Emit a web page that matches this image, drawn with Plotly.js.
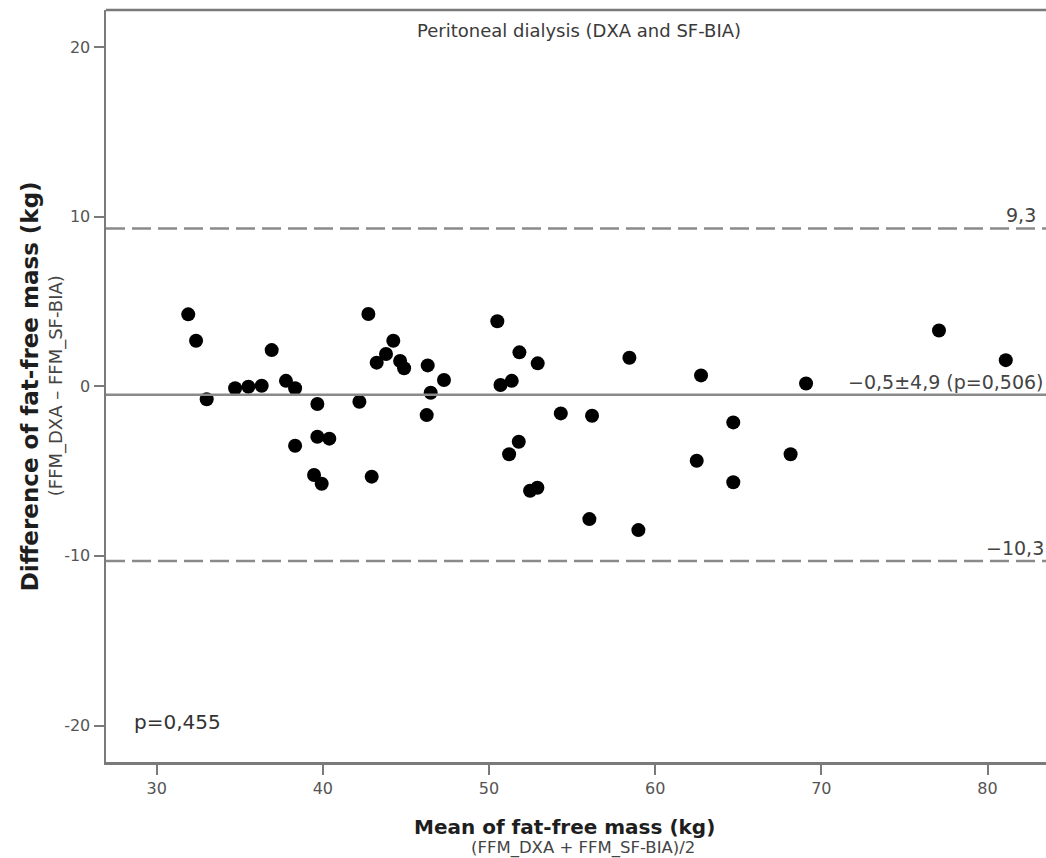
<!DOCTYPE html>
<html>
<head>
<meta charset="utf-8">
<script src="https://cdn.plot.ly/plotly-3.0.1.min.js"></script>
<style>html,body{margin:0;padding:0;background:#fff;}#chart{width:1046px;height:858px;}</style>
</head>
<body>
<div id="chart"></div>
<script>
// Mean of fat-free mass (kg)
const meanFFM = [31.9, 32.37, 33.01, 34.72, 35.52, 36.32, 36.92, 37.78, 38.33, 38.33,
  39.67, 39.67, 40.39, 39.47, 39.93, 42.74, 42.2, 42.94, 44.24, 43.8,
  43.24, 44.65, 44.89, 46.31, 46.49, 46.25, 47.29, 50.5, 50.69, 51.83,
  52.93, 51.37, 54.32, 56.2, 51.79, 51.21, 52.47, 52.91, 56.04, 58.99,
  58.45, 62.76, 64.7, 62.5, 64.7, 68.15, 69.08, 77.08, 81.1];
// Difference of fat-free mass (kg)
const diffFFM = [4.24, 2.68, -0.77, -0.12, -0.03, 0.03, 2.13, 0.32, -0.12, -3.51,
  -1.05, -2.98, -3.09, -5.23, -5.75, 4.26, -0.91, -5.33, 2.68, 1.9,
  1.39, 1.49, 1.06, 1.23, -0.38, -1.7, 0.37, 3.83, 0.07, 2.0,
  1.35, 0.32, -1.6, -1.74, -3.27, -4.01, -6.16, -5.98, -7.83, -8.48,
  1.68, 0.64, -2.13, -4.39, -5.66, -4.01, 0.16, 3.29, 1.54];
// Bland-Altman reference lines
const meanDiff = -0.5;
const upperLoA = 9.3;
const lowerLoA = -10.3;
const meanLabel = "\u22120,5\u00b14,9 (p=0,506)";
const upperLabel = "9,3";
const lowerLabel = "\u221210,3";
const pTrendLabel = "p=0,455";
const xTicks = [30, 40, 50, 60, 70, 80];
const yTicks = [-20, -10, 0, 10, 20];

const FONT = "DejaVu Sans, Verdana, sans-serif";
const LINE = "#7a7a7a";

const trace = {
  x: meanFFM, y: diffFFM, type: "scatter", mode: "markers",
  marker: {color: "#000", size: 14, line: {width: 0}},
  hoverinfo: "x+y", showlegend: false
};

const layout = {
  width: 1046, height: 858,
  margin: {l: 106, r: 0, t: 10, b: 96, pad: 0},
  paper_bgcolor: "#fff", plot_bgcolor: "#fff",
  font: {family: FONT, color: "#555", size: 16},
  xaxis: {
    range: [26.95, 83.52], tickvals: xTicks, ticktext: xTicks.map(String),
    showgrid: false, zeroline: false, showline: true, linecolor: LINE, linewidth: 2.5,
    mirror: false, ticks: "outside", ticklen: 10, tickwidth: 2, tickcolor: LINE,
    tickfont: {family: FONT, size: 16, color: "#555"}
  },
  yaxis: {
    range: [-22.15, 22.18], tickvals: yTicks, ticktext: yTicks.map(v => v < 0 ? "-" + Math.abs(v) : String(v)),
    showgrid: false, zeroline: false, showline: true, linecolor: LINE, linewidth: 2.5,
    ticks: "outside", ticklen: 10, tickwidth: 2, tickcolor: LINE,
    tickfont: {family: FONT, size: 16, color: "#555"}
  },
  shapes: [
    {type: "line", xref: "paper", x0: 0, x1: 1, yref: "paper", y0: 1, y1: 1,
     line: {color: LINE, width: 2.5}},
    {type: "line", xref: "paper", x0: 0, x1: 1, yref: "y", y0: upperLoA, y1: upperLoA,
     line: {color: "#8a8a8a", width: 2.5, dash: "19px,7px"}},
    {type: "line", xref: "paper", x0: 0, x1: 1, yref: "y", y0: lowerLoA, y1: lowerLoA,
     line: {color: "#8a8a8a", width: 2.5, dash: "19px,7px"}},
    {type: "line", xref: "paper", x0: 0, x1: 1, yref: "y", y0: meanDiff, y1: meanDiff,
     line: {color: "#8a8a8a", width: 2.5}}
  ],
  annotations: [
    {text: "Peritoneal dialysis (DXA and SF-BIA)", xref: "paper", yref: "paper",
     x: 0.503, y: 1, yshift: -20, xanchor: "center", yanchor: "middle", showarrow: false,
     font: {family: FONT, size: 18, color: "#3a3a3a"}},
    {text: upperLabel, xref: "paper", yref: "y", x: 1, xshift: -8, y: upperLoA, yshift: 0,
     xanchor: "right", yanchor: "bottom", showarrow: false,
     font: {family: FONT, size: 19, color: "#444"}},
    {text: meanLabel, xref: "paper", yref: "y", x: 1, xshift: 0, y: meanDiff, yshift: 0,
     xanchor: "right", yanchor: "bottom", showarrow: false,
     font: {family: FONT, size: 19, color: "#444"}},
    {text: lowerLabel, xref: "paper", yref: "y", x: 1, xshift: 0, y: lowerLoA, yshift: 0,
     xanchor: "right", yanchor: "bottom", showarrow: false,
     font: {family: FONT, size: 19, color: "#444"}},
    {text: pTrendLabel, xref: "paper", yref: "y", x: 0, xshift: 26, y: -20, yshift: 4,
     xanchor: "left", yanchor: "middle", showarrow: false,
     font: {family: FONT, size: 20, color: "#333"}},
    {text: "<b>Mean of fat-free mass (kg)</b>", xref: "paper", yref: "paper",
     x: 0.488, y: 0, yshift: -65, xanchor: "center", yanchor: "middle", showarrow: false,
     font: {family: FONT, size: 20, color: "#1e1e1e"}},
    {text: "(FFM_DXA + FFM_SF-BIA)/2", xref: "paper", yref: "paper",
     x: 0.507, y: 0, yshift: -86, xanchor: "center", yanchor: "middle", showarrow: false,
     font: {family: FONT, size: 16.5, color: "#444"}},
    {text: "<b>Difference of fat-free mass (kg)</b>", xref: "paper", yref: "y",
     x: 0, xshift: -76, y: 0, xanchor: "center", yanchor: "middle", textangle: -90, showarrow: false,
     font: {family: FONT, size: 23, color: "#1e1e1e"}},
    {text: "(FFM_DXA \u2013 FFM_SF-BIA)", xref: "paper", yref: "y",
     x: 0, xshift: -50, y: 0, xanchor: "center", yanchor: "middle", textangle: -90, showarrow: false,
     font: {family: FONT, size: 18, color: "#444"}}
  ]
};

Plotly.newPlot("chart", [trace], layout, {displayModeBar: false, staticPlot: true});
</script>
</body>
</html>
